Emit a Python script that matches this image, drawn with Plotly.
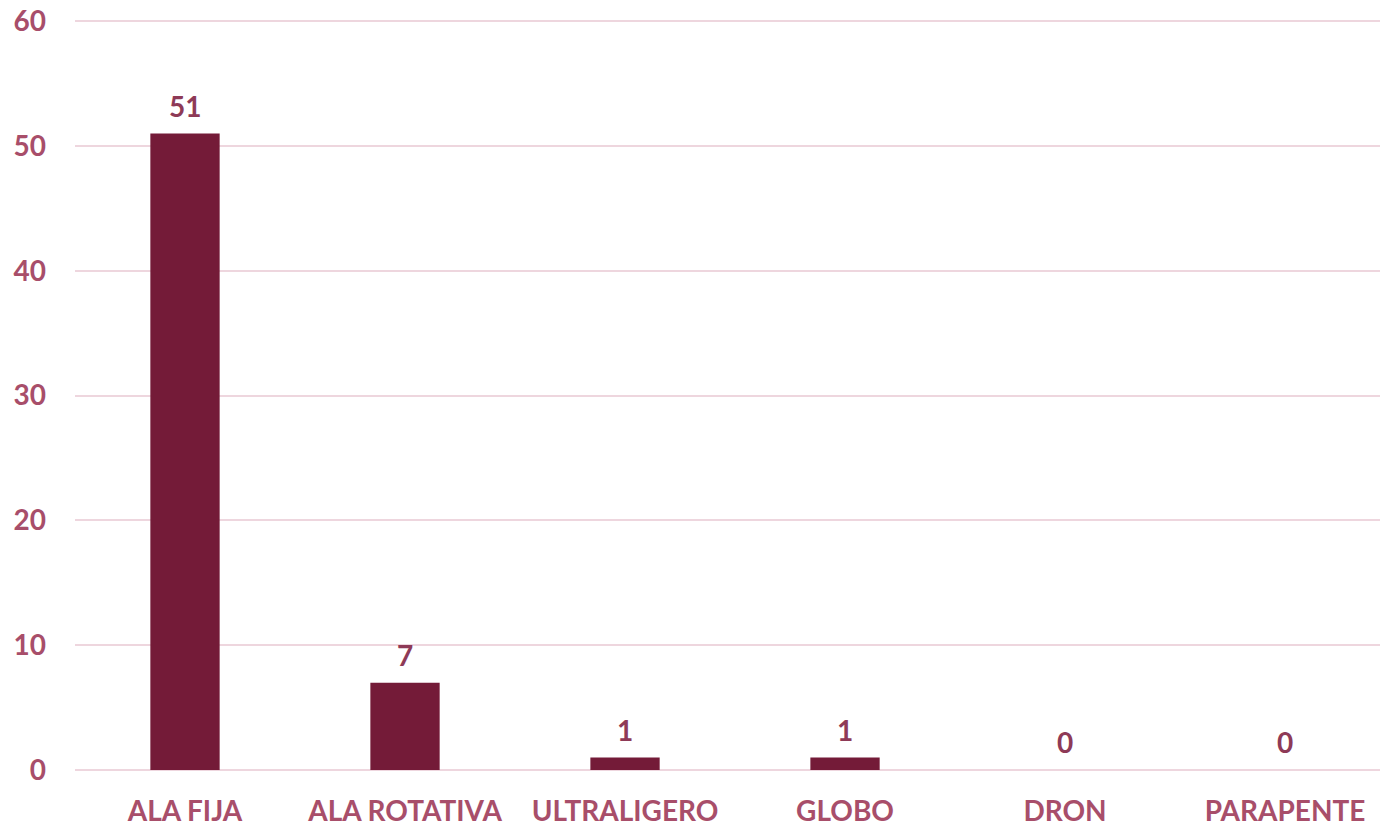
import plotly.graph_objects as go

categories = ["ALA FIJA", "ALA ROTATIVA", "ULTRALIGERO", "GLOBO", "DRON", "PARAPENTE"]
values = [51, 7, 1, 1, 0, 0]
y_ticks = [0, 10, 20, 30, 40, 50, 60]

BAR = "#741b38"
TICK = "#a84e6a"
LABEL = "#8e3a57"
GRID = "#eed6de"
FONT = "Lato"

fig = go.Figure(go.Bar(
    x=categories, y=values,
    marker=dict(color=BAR, line=dict(width=0)),
    width=0.315,
    hoverinfo="x+y",
))

for c, v in zip(categories, values):
    fig.add_annotation(
        x=c, y=v, xref="x", yref="y", text=str(v), showarrow=False,
        yanchor="middle", yshift=28,
        font=dict(family=FONT, size=28, color=LABEL, weight="bold"),
    )

# page body has an 8px margin: figure sized/offset to fill the 1388x826 window
fig.update_layout(
    width=1380, height=818,
    margin=dict(l=67, r=0, t=7, b=56, autoexpand=False),
    paper_bgcolor="white", plot_bgcolor="rgba(0,0,0,0)",
    showlegend=False,
    font=dict(family=FONT),
)
fig.update_xaxes(
    range=[-0.5, 5.468],
    showgrid=False, zeroline=False, showline=False,
    tickfont=dict(family=FONT, size=28, color=TICK, weight="bold"),
    ticklabelstandoff=22,
    automargin=False,
)
fig.update_yaxes(
    range=[0, 60.5], tickvals=y_ticks,
    showgrid=True, gridcolor=GRID, gridwidth=2,
    zeroline=True, zerolinecolor=GRID, zerolinewidth=2,
    showline=False,
    tickfont=dict(family=FONT, size=28, color=TICK, weight="bold"),
    ticklabelstandoff=28,
    ticklabeloverflow="allow",
    automargin=False,
)

fig.write_html("out.html")
